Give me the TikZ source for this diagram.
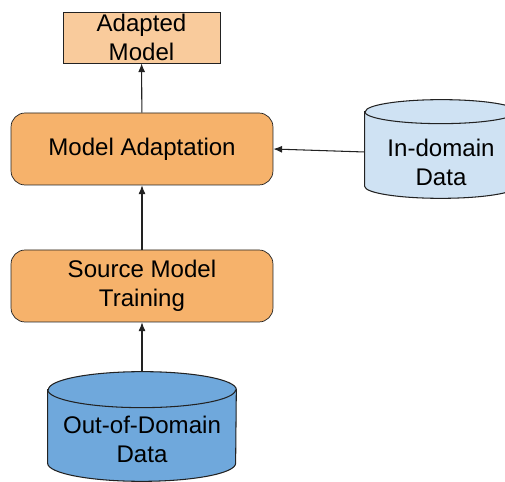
\documentclass[tikz,border=0pt]{standalone}
\usepackage{fontspec}
\setmainfont{Liberation Sans}
\usetikzlibrary{arrows.meta}
\definecolor{lightorange}{HTML}{F9CB9C}
\definecolor{midorange}{HTML}{F6B26B}
\definecolor{midblue}{HTML}{6FA8DC}
\definecolor{lightblue}{HTML}{CFE2F3}
\definecolor{edge}{HTML}{222222}
\tikzset{
  boxtext/.style={font=\fontsize{13.7}{16.5}\selectfont, align=center, text=black},
  stepbox/.style={boxtext, draw=edge, fill=midorange, rounded corners=8pt, minimum width=5.24cm, minimum height=1.44cm},
  resultbox/.style={boxtext, draw=edge, fill=lightorange, minimum width=3.14cm, minimum height=1.02cm, inner sep=0pt},
  storeframe/.style={inner sep=0pt},
  storeline/.style={draw=edge, line width=0.6pt},
  flow/.style={-{Latex[length=5pt,width=4pt]}, edge, line width=0.6pt}
}
\begin{document}
\begin{tikzpicture}[x=0.02cm, y=-0.02cm]
\useasboundingbox (0,0) rectangle (505,482);
\node[resultbox] (adapted) at (141.5,37.5) {Adapted\\Model};
\node[stepbox] (adapt) at (142,149) {Model Adaptation};
\node[stepbox] (source) at (142,286) {Source Model\\Training};
% data stores
\node[storeframe, minimum width=3.76cm, minimum height=2.18cm] (ood) at (142,426.5) {};
\path[storeline, fill=midblue] ([yshift=-0.36cm]ood.north west) -- ([yshift=0.36cm]ood.south west)
  arc[start angle=180, end angle=360, x radius=1.88cm, y radius=0.36cm]
  -- ([yshift=-0.36cm]ood.north east)
  arc[start angle=0, end angle=180, x radius=1.88cm, y radius=0.36cm] -- cycle;
\draw[storeline] ([yshift=-0.36cm]ood.north west) arc[start angle=180, end angle=360, x radius=1.88cm, y radius=0.36cm];
\node[boxtext] (oodtext) at ([yshift=-0.26cm]ood.center) {Out-of-Domain\\Data};
\node[storeframe, minimum width=3.04cm, minimum height=1.96cm] (ind) at (441,149) {};
\path[storeline, fill=lightblue] ([yshift=-0.24cm]ind.north west) -- ([yshift=0.24cm]ind.south west)
  arc[start angle=180, end angle=360, x radius=1.52cm, y radius=0.24cm]
  -- ([yshift=-0.24cm]ind.north east)
  arc[start angle=0, end angle=180, x radius=1.52cm, y radius=0.24cm] -- cycle;
\draw[storeline] ([yshift=-0.24cm]ind.north west) arc[start angle=180, end angle=360, x radius=1.52cm, y radius=0.24cm];
\node[boxtext] (indtext) at ([yshift=-0.26cm]ind.center) {In-domain\\Data};
% connectors
\draw[flow] (ood.north) -- (source);
\draw[flow] (source) -- (adapt);
\draw[flow] (adapt) -- (adapted);
\draw[flow] ([yshift=-0.06cm]ind.west) -- (adapt.east);
\end{tikzpicture}
\end{document}
